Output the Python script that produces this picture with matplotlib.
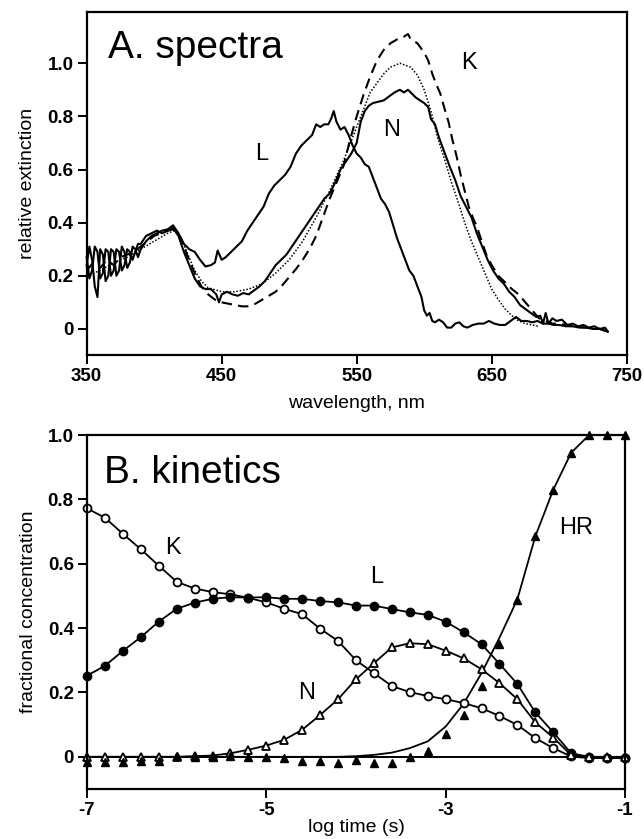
import matplotlib
matplotlib.use("Agg")
import matplotlib.pyplot as plt

plt.rcParams['font.family'] = ['Liberation Sans', 'DejaVu Sans']

# ---------------- Panel A: spectra ----------------
L_wl = [350, 352, 354, 356, 358, 360, 362, 364, 366, 368, 370, 372, 374, 376, 378, 380, 382, 384, 386, 388,
        390, 394, 398, 402, 406, 410, 414, 418, 422, 426, 430, 434, 438, 442, 445, 447, 450, 453, 457, 461,
        465, 469, 473, 477, 481, 485, 489, 493, 497, 501, 505, 509, 513, 517, 520, 523, 526, 529, 531, 533,
        535, 538, 541, 544, 547, 550, 553, 556, 559, 562, 565, 568, 571, 574, 577, 580, 583, 586, 589, 592,
        595, 598, 600, 602, 604, 606, 608, 611, 614, 617, 620, 623, 626, 629, 632, 636, 640, 644, 648, 652,
        656, 660, 664, 668, 672, 676, 680, 684, 688, 692, 696, 700, 705, 710, 715, 720, 725, 730, 736]
L_val = [0.24, 0.31, 0.26, 0.16, 0.12, 0.30, 0.28, 0.18, 0.20, 0.30, 0.29, 0.20, 0.22, 0.31, 0.29, 0.23, 0.25, 0.31, 0.30, 0.27,
         0.30, 0.33, 0.35, 0.36, 0.37, 0.375, 0.39, 0.36, 0.32, 0.30, 0.29, 0.26, 0.235, 0.24, 0.25, 0.295, 0.26, 0.27, 0.29, 0.31,
         0.33, 0.37, 0.40, 0.43, 0.46, 0.51, 0.54, 0.56, 0.58, 0.61, 0.66, 0.69, 0.71, 0.73, 0.77, 0.76, 0.77, 0.77, 0.79, 0.82,
         0.78, 0.75, 0.76, 0.73, 0.69, 0.66, 0.645, 0.62, 0.61, 0.57, 0.53, 0.49, 0.47, 0.44, 0.39, 0.34, 0.30, 0.26, 0.22, 0.20,
         0.16, 0.12, 0.07, 0.05, 0.06, 0.03, 0.025, 0.035, 0.025, 0.005, 0.005, 0.02, 0.025, 0.01, 0.005, 0.015, 0.02, 0.02, 0.03, 0.02,
         0.015, 0.015, 0.03, 0.045, 0.03, 0.03, 0.025, 0.03, 0.02, 0.02, 0.015, 0.015, 0.01, 0.01, 0.005, 0.005, 0.0, 0.0, -0.01]

N_wl = [350, 352, 354, 356, 358, 360, 362, 364, 366, 368, 370, 372, 374, 376, 378, 380, 382, 384, 386, 388,
        390, 394, 398, 402, 406, 410, 414, 418, 422, 426, 430, 434, 438, 442, 446, 448, 450, 454, 458, 462,
        466, 470, 474, 478, 482, 486, 490, 494, 498, 502, 506, 510, 514, 518, 522, 526, 530, 534, 538, 542,
        546, 550, 553, 556, 559, 562, 566, 570, 574, 578, 582, 585, 588, 591, 594, 597, 600, 603, 605, 608,
        611, 615, 619, 623, 627, 631, 635, 639, 643, 647, 651, 655, 659, 663, 667, 671, 675, 679, 683, 686,
        688, 690, 692, 695, 698, 702, 706, 710, 714, 718, 722, 726, 730, 734, 736]
N_val = [0.27, 0.19, 0.22, 0.31, 0.29, 0.19, 0.21, 0.30, 0.29, 0.20, 0.22, 0.30, 0.29, 0.22, 0.24, 0.30, 0.29, 0.26, 0.29, 0.32,
         0.32, 0.35, 0.36, 0.37, 0.36, 0.37, 0.38, 0.35, 0.29, 0.24, 0.19, 0.16, 0.15, 0.15, 0.13, 0.10, 0.13, 0.14, 0.13, 0.125,
         0.135, 0.13, 0.145, 0.16, 0.18, 0.21, 0.24, 0.26, 0.28, 0.31, 0.34, 0.37, 0.40, 0.43, 0.46, 0.49, 0.51, 0.55, 0.60, 0.63,
         0.66, 0.70, 0.78, 0.82, 0.84, 0.85, 0.855, 0.86, 0.875, 0.89, 0.90, 0.89, 0.90, 0.885, 0.87, 0.86, 0.85, 0.835, 0.79, 0.77,
         0.72, 0.665, 0.61, 0.56, 0.50, 0.46, 0.42, 0.36, 0.31, 0.26, 0.22, 0.19, 0.17, 0.14, 0.12, 0.09, 0.075, 0.06, 0.045, 0.05,
         0.02, 0.06, 0.02, 0.04, 0.03, 0.035, 0.015, 0.02, 0.01, 0.015, 0.005, 0.01, 0.0, 0.005, -0.01]

K_wl = [350, 355, 360, 365, 370, 375, 380, 385, 390, 395, 400, 405, 410, 415, 420, 425, 430, 435, 440, 445,
        450, 455, 460, 465, 470, 475, 480, 485, 490, 495, 500, 505, 510, 515, 520, 525, 530, 535, 540, 545,
        550, 555, 560, 565, 570, 575, 580, 585, 588, 590, 595, 600, 603, 606, 609, 612, 615, 618, 621, 624,
        627, 630, 633, 636, 639, 642, 646, 650, 655, 660, 665, 670, 675, 680, 685, 690, 695, 700, 710, 720,
        730, 736]
K_val = [0.22, 0.25, 0.23, 0.26, 0.24, 0.27, 0.28, 0.29, 0.31, 0.33, 0.35, 0.36, 0.37, 0.375, 0.34, 0.27, 0.21, 0.16, 0.13, 0.11,
         0.10, 0.095, 0.09, 0.085, 0.085, 0.095, 0.11, 0.125, 0.14, 0.165, 0.195, 0.225, 0.26, 0.30, 0.35, 0.42, 0.49, 0.55, 0.61, 0.71,
         0.80, 0.88, 0.95, 1.01, 1.05, 1.075, 1.09, 1.10, 1.11, 1.09, 1.075, 1.04, 1.01, 0.96, 0.92, 0.885, 0.83, 0.78, 0.71, 0.65,
         0.58, 0.52, 0.46, 0.42, 0.385, 0.34, 0.28, 0.24, 0.20, 0.175, 0.15, 0.13, 0.10, 0.07, 0.04, 0.03, 0.02, 0.02, 0.01, 0.005,
         0.0, -0.01]

HR_wl = [350, 360, 370, 380, 390, 400, 410, 415, 420, 425, 430, 435, 440, 450, 460, 470, 480, 490, 500, 510,
         520, 530, 540, 550, 560, 570, 575, 582, 590, 595, 600, 605, 610, 615, 620, 625, 630, 635, 640, 645,
         650, 655, 660, 665, 670, 675, 680, 685]
HR_val = [0.20, 0.22, 0.25, 0.27, 0.30, 0.33, 0.36, 0.37, 0.34, 0.28, 0.22, 0.18, 0.155, 0.14, 0.14, 0.15, 0.17, 0.21, 0.26, 0.33,
          0.42, 0.52, 0.63, 0.76, 0.89, 0.96, 0.985, 1.0, 0.985, 0.955, 0.90, 0.82, 0.72, 0.64, 0.555, 0.48, 0.40, 0.33, 0.27, 0.21,
          0.15, 0.11, 0.075, 0.05, 0.03, 0.02, 0.015, 0.01]

A_xticks = [350, 450, 550, 650, 750]
A_yticks = [0, 0.2, 0.4, 0.6, 0.8, 1.0]
A_yticklabels = ['0', '0.2', '0.4', '0.6', '0.8', '1.0']

# ---------------- Panel B: kinetics ----------------
logt = [-7.0, -6.8, -6.6, -6.4, -6.2, -6.0, -5.8, -5.6, -5.4, -5.2, -5.0, -4.8, -4.6, -4.4, -4.2, -4.0,
        -3.8, -3.6, -3.4, -3.2, -3.0, -2.8, -2.6, -2.4, -2.2, -2.0, -1.8, -1.6, -1.4, -1.2, -1.0]
K_conc = [0.772, 0.743, 0.693, 0.645, 0.594, 0.544, 0.523, 0.512, 0.505, 0.494, 0.480, 0.460, 0.443, 0.398, 0.360, 0.300,
          0.260, 0.220, 0.201, 0.189, 0.179, 0.167, 0.151, 0.127, 0.099, 0.058, 0.027, 0.001, -0.004, -0.004, -0.004]
L_conc = [0.252, 0.283, 0.329, 0.372, 0.420, 0.460, 0.479, 0.491, 0.496, 0.495, 0.496, 0.491, 0.491, 0.484, 0.480, 0.470,
          0.470, 0.459, 0.449, 0.441, 0.420, 0.387, 0.350, 0.289, 0.226, 0.138, 0.076, 0.011, 0.0, -0.004, -0.004]
N_conc = [0.0, 0.0, 0.0, 0.0, 0.0, 0.0, 0.002, 0.004, 0.011, 0.022, 0.035, 0.053, 0.084, 0.130, 0.179, 0.241,
          0.291, 0.340, 0.353, 0.350, 0.330, 0.306, 0.272, 0.229, 0.179, 0.107, 0.060, 0.005, 0.0, 0.0, 0.0]
HR_conc = [-0.015, -0.015, -0.015, -0.012, -0.012, 0.001, 0.0, 0.0, 0.003, 0.0, -0.002, -0.005, -0.012, -0.012, -0.018, -0.011,
           -0.019, -0.019, -0.001, 0.017, 0.070, 0.130, 0.220, 0.351, 0.488, 0.687, 0.829, 0.945, 1.0, 1.0, 1.0]
HR_fit = [0.0, 0.0, 0.0, 0.0, 0.0, 0.0, 0.0, 0.0, 0.0, 0.0, 0.0, 0.0, 0.0, 0.0, 0.0, 0.002,
          0.006, 0.013, 0.027, 0.048, 0.094, 0.165, 0.26, 0.37, 0.49, 0.685, 0.83, 0.945, 1.0, 1.0, 1.0]

B_xticks = [-7, -5, -3, -1]
B_yticks = [0, 0.2, 0.4, 0.6, 0.8, 1.0]
B_yticklabels = ['0', '0.2', '0.4', '0.6', '0.8', '1.0']

fig = plt.figure(figsize=(6.44, 8.39), dpi=100)
axA = fig.add_axes([0.1346, 0.5769, 0.8385, 0.4092])
axB = fig.add_axes([0.1351, 0.0596, 0.8354, 0.4219])


def style(ax):
    for s in ax.spines.values():
        s.set_linewidth(1.6)
    ax.tick_params(direction='out', length=6.5, width=1.4, labelsize=13.5, pad=3)
    for lab in ax.get_xticklabels() + ax.get_yticklabels():
        lab.set_fontweight('bold')


# Panel A
axA.plot(L_wl, L_val, color='black', lw=1.5, solid_joinstyle='round')
axA.plot(N_wl, N_val, color='black', lw=1.5, solid_joinstyle='round')
axA.plot(K_wl, K_val, color='black', lw=1.5, linestyle=(0, (5, 3)))
axA.plot(HR_wl, HR_val, color='black', lw=1.1, linestyle=(0, (1, 1.2)))
axA.set_xlim(350, 750)
axA.set_ylim(-0.098, 1.194)
axA.set_xticks(A_xticks)
axA.set_xticklabels([str(t) for t in A_xticks])
axA.set_yticks(A_yticks)
axA.set_yticklabels(A_yticklabels)
axA.tick_params(axis='x', pad=6)
style(axA)
axA.set_xlabel('wavelength, nm', fontsize=14, labelpad=7)
axA.set_ylabel('relative extinction', fontsize=14, labelpad=8)
axA.text(0.039, 0.865, 'A. spectra', transform=axA.transAxes, fontsize=28, ha='left', va='baseline')
axA.text(480, 0.66, 'L', fontsize=17, ha='center', va='center')
axA.text(576, 0.75, 'N', fontsize=17, ha='center', va='center')
axA.text(633, 1.0, 'K', fontsize=17, ha='center', va='center')

# Panel B
axB.axhline(0, color='black', lw=1.4, zorder=1)
ms = 5.7
axB.plot(logt, K_conc, color='black', lw=1.3, marker='o', ms=ms, mfc='white', mec='black', mew=1.3, zorder=3)
axB.plot(logt, L_conc, color='black', lw=1.3, marker='o', ms=ms, mfc='black', mec='black', mew=1.3, zorder=3)
axB.plot(logt, N_conc, color='black', lw=1.3, marker='^', ms=ms, mfc='white', mec='black', mew=1.3, zorder=3)
axB.plot(logt, HR_fit, color='black', lw=1.3, zorder=2)
axB.plot(logt, HR_conc, linestyle='none', marker='^', ms=ms + 0.6, mfc='black', mec='black', zorder=4)
axB.set_xlim(-7, -1)
axB.set_ylim(-0.1, 1.0)
axB.set_xticks(B_xticks)
axB.set_xticklabels([str(t) for t in B_xticks])
axB.set_yticks(B_yticks)
axB.set_yticklabels(B_yticklabels)
axB.tick_params(axis='x', pad=4)
style(axB)
for ax in (axA, axB):
    for s in ax.spines.values():
        s.set_zorder(5)
axB.set_xlabel('log time (s)', fontsize=14, labelpad=0)
axB.set_ylabel('fractional concentration', fontsize=14, labelpad=8)
axB.text(0.032, 0.864, 'B. kinetics', transform=axB.transAxes, fontsize=28, ha='left', va='baseline')
axB.text(-6.04, 0.649, 'K', fontsize=17, ha='center', va='center')
axB.text(-3.77, 0.56, 'L', fontsize=17, ha='center', va='center')
axB.text(-4.55, 0.198, 'N', fontsize=17, ha='center', va='center')
axB.text(-1.55, 0.71, 'HR', fontsize=17, ha='center', va='center')

for ax in (axA, axB):
    for s in ax.spines.values():
        s.set_clip_on(False)
    for ln in ax.lines:
        ln.set_clip_on(False)

fig.savefig('out.png', dpi=100)
